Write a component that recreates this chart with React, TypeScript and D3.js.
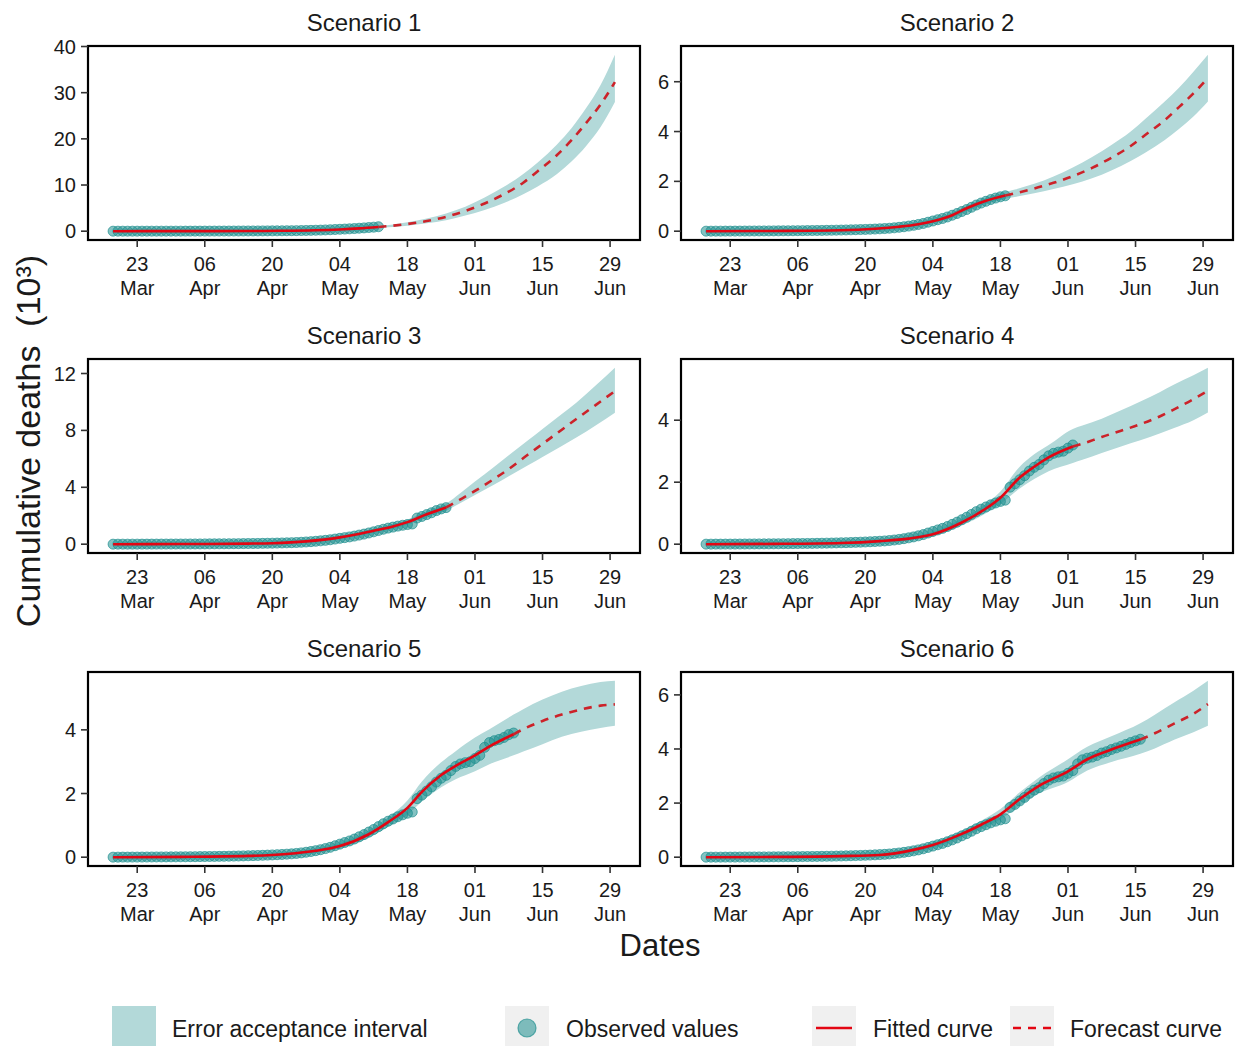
import React from "react";
import * as d3 from "d3";

// ---- data (cumulative deaths, thousands) ----
const START = "2020-03-18";
const LAST_DAY = 104; // 30 Jun
const X_TICKS = ["2020-03-23", "2020-04-06", "2020-04-20", "2020-05-04", "2020-05-18", "2020-06-01", "2020-06-15", "2020-06-29"];

// daily observed values from 18 Mar (day 0) to 16 Jun (day 90)
const observed = [
  0.001, 0.001, 0.002, 0.002, 0.003, 0.003, 0.004, 0.005, 0.006, 0.007,
  0.008, 0.009, 0.010, 0.011, 0.012, 0.013, 0.015, 0.016, 0.018, 0.020,
  0.022, 0.024, 0.026, 0.028, 0.031, 0.034, 0.037, 0.041, 0.045, 0.049,
  0.054, 0.059, 0.065, 0.071, 0.078, 0.086, 0.095, 0.105, 0.118, 0.135,
  0.155, 0.178, 0.205, 0.235, 0.27, 0.31, 0.36, 0.41, 0.46, 0.51,
  0.57, 0.64, 0.71, 0.79, 0.87, 0.96, 1.05, 1.13, 1.2, 1.27,
  1.33, 1.38, 1.42, 1.84, 1.95, 2.08, 2.21, 2.36, 2.48, 2.57,
  2.72, 2.85, 2.93, 2.97, 3.0, 3.1, 3.2, 3.45, 3.6, 3.66,
  3.7, 3.76, 3.85, 3.9, 3.98, 4.04, 4.1, 4.17, 4.24, 4.3,
  4.36,
];

const titles = ["Scenario 1", "Scenario 2", "Scenario 3", "Scenario 4", "Scenario 5", "Scenario 6"];
const observedEnd = [55, 62, 69, 76, 83, 90];
const yTicks = [[0, 10, 20, 30, 40], [0, 2, 4, 6], [0, 4, 8, 12], [0, 2, 4], [0, 2, 4], [0, 2, 4, 6]];

// model curves: day, central value, interval lower / upper
const s1Days = [0, 14, 28, 35, 42, 47, 51, 55, 61, 65, 69, 73, 77, 81, 85, 88, 92, 95, 98, 101, 104];
const s1Mid = [0, 0.01, 0.04, 0.08, 0.2, 0.38, 0.6, 0.9, 1.55, 2.2, 3.1, 4.4, 6.0, 8.0, 10.5, 13.0, 16.5, 19.7, 23.4, 27.4, 32.3];
const s1Lo = [0, 0, 0.03, 0.06, 0.16, 0.32, 0.5, 0.72, 1.2, 1.7, 2.35, 3.4, 4.6, 6.1, 8.0, 9.7, 12.4, 15.1, 18.4, 22.5, 27.96];
const s1Hi = [0, 0.02, 0.05, 0.1, 0.24, 0.44, 0.7, 1.08, 1.95, 2.75, 3.85, 5.3, 7.3, 9.6, 12.4, 14.9, 18.8, 22.3, 26.6, 31.6, 38.2];

const s2Days = [0, 14, 28, 35, 40, 44, 47, 51, 54, 58, 62, 64, 68, 72, 76, 80, 84, 88, 91, 95, 98, 101, 104];
const s2Mid = [0, 0.01, 0.04, 0.1, 0.18, 0.28, 0.4, 0.64, 0.92, 1.22, 1.43, 1.52, 1.71, 1.94, 2.21, 2.54, 2.95, 3.42, 3.86, 4.45, 4.98, 5.53, 6.15];
const s2Lo = [0, 0, 0.02, 0.07, 0.14, 0.23, 0.34, 0.56, 0.82, 1.1, 1.3, 1.37, 1.52, 1.69, 1.88, 2.12, 2.44, 2.82, 3.15, 3.65, 4.1, 4.6, 5.21];
const s2Hi = [0.01, 0.02, 0.06, 0.13, 0.22, 0.33, 0.46, 0.72, 1.02, 1.34, 1.57, 1.67, 1.9, 2.2, 2.56, 2.98, 3.46, 4.0, 4.5, 5.2, 5.76, 6.4, 7.08];

const s3Days = [0, 14, 28, 33, 40, 47, 54, 58, 61, 65, 69, 72, 75, 79, 82, 86, 89, 93, 96, 100, 104];
const s3Mid = [0, 0.01, 0.04, 0.07, 0.2, 0.48, 0.95, 1.25, 1.55, 2.1, 2.58, 3.15, 3.74, 4.6, 5.28, 6.3, 7.05, 8.05, 8.8, 9.78, 10.76];
const s3Lo = [0, 0, 0.02, 0.05, 0.15, 0.4, 0.83, 1.1, 1.37, 1.88, 2.35, 2.9, 3.45, 4.2, 4.78, 5.55, 6.13, 6.9, 7.5, 8.35, 9.24];
const s3Hi = [0.01, 0.02, 0.06, 0.1, 0.25, 0.56, 1.07, 1.4, 1.73, 2.32, 2.85, 3.6, 4.4, 5.45, 6.25, 7.3, 8.1, 9.15, 9.95, 11.15, 12.4];

const s4Days = [0, 14, 28, 36, 42, 47, 53, 58, 61, 65, 68, 71, 76, 78, 82, 86, 90, 94, 97, 101, 104];
const s4Mid = [0, 0.01, 0.04, 0.1, 0.18, 0.32, 0.7, 1.15, 1.5, 2.15, 2.5, 2.8, 3.15, 3.24, 3.46, 3.66, 3.87, 4.12, 4.35, 4.68, 4.95];
const s4Lo = [0, 0, 0.02, 0.06, 0.13, 0.25, 0.6, 1.0, 1.3, 1.8, 2.1, 2.35, 2.62, 2.72, 2.94, 3.15, 3.35, 3.57, 3.75, 4.0, 4.25];
const s4Hi = [0.01, 0.02, 0.06, 0.14, 0.23, 0.39, 0.82, 1.3, 1.7, 2.5, 2.9, 3.2, 3.72, 3.83, 4.05, 4.32, 4.6, 4.9, 5.15, 5.45, 5.69];

const s5Days = [0, 14, 28, 36, 42, 47, 53, 57, 61, 64, 68, 71, 75, 78, 83, 85, 89, 93, 97, 101, 104];
const s5Mid = [0, 0.01, 0.04, 0.1, 0.2, 0.35, 0.72, 1.1, 1.55, 2.05, 2.58, 2.87, 3.2, 3.48, 3.86, 4.02, 4.28, 4.48, 4.64, 4.76, 4.8];
const s5Lo = [0, 0, 0.02, 0.06, 0.14, 0.27, 0.6, 0.95, 1.33, 1.75, 2.2, 2.45, 2.7, 2.92, 3.2, 3.32, 3.55, 3.78, 3.94, 4.06, 4.13];
const s5Hi = [0.01, 0.02, 0.06, 0.14, 0.26, 0.43, 0.84, 1.25, 1.78, 2.38, 2.98, 3.33, 3.76, 4.02, 4.48, 4.65, 4.95, 5.2, 5.38, 5.5, 5.54];

const s6Days = [0, 14, 28, 36, 43, 47, 53, 57, 61, 65, 69, 75, 79, 84, 90, 93, 97, 101, 104];
const s6Mid = [0, 0.01, 0.04, 0.08, 0.27, 0.45, 0.86, 1.2, 1.58, 2.15, 2.64, 3.17, 3.62, 3.98, 4.35, 4.58, 4.94, 5.3, 5.66];
const s6Lo = [0, 0, 0.02, 0.05, 0.2, 0.36, 0.74, 1.05, 1.4, 1.9, 2.35, 2.78, 3.2, 3.52, 3.82, 4.02, 4.34, 4.62, 4.86];
const s6Hi = [0.01, 0.02, 0.06, 0.12, 0.34, 0.54, 0.98, 1.35, 1.78, 2.4, 2.95, 3.62, 4.08, 4.47, 4.95, 5.27, 5.72, 6.15, 6.52];

const models = [
  { days: s1Days, mid: s1Mid, lo: s1Lo, hi: s1Hi },
  { days: s2Days, mid: s2Mid, lo: s2Lo, hi: s2Hi },
  { days: s3Days, mid: s3Mid, lo: s3Lo, hi: s3Hi },
  { days: s4Days, mid: s4Mid, lo: s4Lo, hi: s4Hi },
  { days: s5Days, mid: s5Mid, lo: s5Lo, hi: s5Hi },
  { days: s6Days, mid: s6Mid, lo: s6Lo, hi: s6Hi },
];

// ---- layout & style ----
const FONT = "'Liberation Sans', Arial, Helvetica, sans-serif";
const PANEL_X = [88, 681];
const PANEL_Y = [46, 359, 672];
const PANEL_W = 552;
const PANEL_H = 194;
const BAND = "#b3d9d9";
const POINT = "#1f8f8f";
const FIT = "#e30613";
const FORECAST = "#cc2229";
const TEXT = "#1a1a1a";

const parse = d3.timeParse("%Y-%m-%d");
const startDate = parse(START) as Date;
const fmtDay = d3.timeFormat("%d");
const fmtMon = d3.timeFormat("%b");
const tickDates = X_TICKS.map((s) => parse(s) as Date);

function Panel({ i }: { i: number }) {
  const x0 = PANEL_X[i % 2];
  const y0 = PANEL_Y[Math.floor(i / 2)];
  const m = models[i];
  const end = observedEnd[i];
  const obs = observed.slice(0, end + 1);

  const pad = LAST_DAY * 0.05;
  const x = d3.scaleLinear().domain([-pad, LAST_DAY + pad]).range([x0, x0 + PANEL_W]);

  const lo = Math.min(0, d3.min(m.lo) as number, d3.min(obs) as number);
  const hi = Math.max(d3.max(m.hi) as number, d3.max(obs) as number);
  const r = hi - lo;
  const y = d3.scaleLinear().domain([lo - 0.05 * r, hi + 0.05 * r]).range([y0 + PANEL_H, y0]);

  const pts = m.days.map((d, k) => ({ d, mid: m.mid[k], lo: m.lo[k], hi: m.hi[k] }));
  const fitted = pts.filter((p) => p.d <= end);
  const forecast = pts.filter((p) => p.d >= end);

  const area = d3
    .area<{ d: number; lo: number; hi: number }>()
    .x((p) => x(p.d))
    .y0((p) => y(p.lo))
    .y1((p) => y(p.hi))
    .curve(d3.curveMonotoneX);
  const line = d3
    .line<{ d: number; mid: number }>()
    .x((p) => x(p.d))
    .y((p) => y(p.mid))
    .curve(d3.curveMonotoneX);

  const clipId = `clip-${i}`;
  return (
    <g>
      <defs>
        <clipPath id={clipId}>
          <rect x={x0} y={y0} width={PANEL_W} height={PANEL_H} />
        </clipPath>
      </defs>
      <text x={x0 + PANEL_W / 2} y={y0 - 15} textAnchor="middle" fontSize={24} fill={TEXT}>
        {titles[i]}
      </text>
      <g clipPath={`url(#${clipId})`}>
        <path d={area(pts) || ""} fill={BAND} />
        {obs.map((v, k) => (
          <circle key={k} cx={x(k)} cy={y(v)} r={5} fill={POINT} fillOpacity={0.55} stroke={POINT} strokeOpacity={0.7} strokeWidth={1} />
        ))}
        <path d={line(fitted) || ""} fill="none" stroke={FIT} strokeWidth={2.6} />
        <path d={line(forecast) || ""} fill="none" stroke={FORECAST} strokeWidth={2.6} strokeDasharray="8,7" />
      </g>
      <rect x={x0} y={y0} width={PANEL_W} height={PANEL_H} fill="none" stroke="#000" strokeWidth={2.2} />
      {yTicks[i].map((t) => (
        <g key={t}>
          <line x1={x0 - 7} x2={x0} y1={y(t)} y2={y(t)} stroke="#333" strokeWidth={1.6} />
          <text x={x0 - 12} y={y(t) + 7} textAnchor="end" fontSize={20} fill={TEXT}>
            {t}
          </text>
        </g>
      ))}
      {tickDates.map((dt) => {
        const xx = x(d3.timeDay.count(startDate, dt));
        return (
          <g key={+dt}>
            <line x1={xx} x2={xx} y1={y0 + PANEL_H} y2={y0 + PANEL_H + 7} stroke="#333" strokeWidth={1.6} />
            <text x={xx} y={y0 + PANEL_H + 31} textAnchor="middle" fontSize={20} fill={TEXT}>
              {fmtDay(dt)}
            </text>
            <text x={xx} y={y0 + PANEL_H + 55} textAnchor="middle" fontSize={20} fill={TEXT}>
              {fmtMon(dt)}
            </text>
          </g>
        );
      })}
    </g>
  );
}

function Legend() {
  const ky = 1006;
  const ks = 44;
  const cy = ky + 22;
  return (
    <g fontSize={23} fill={TEXT}>
      <rect x={112} y={ky} width={ks} height={ks} fill={BAND} />
      <text x={172} y={cy + 9}>Error acceptance interval</text>

      <rect x={505} y={ky} width={ks} height={ks} fill="#f0f0f0" />
      <circle cx={527} cy={cy} r={9} fill={POINT} fillOpacity={0.55} stroke={POINT} strokeOpacity={0.7} strokeWidth={1.2} />
      <text x={566} y={cy + 9}>Observed values</text>

      <rect x={812} y={ky} width={ks} height={ks} fill="#f0f0f0" />
      <line x1={816} x2={852} y1={cy} y2={cy} stroke={FIT} strokeWidth={2.6} />
      <text x={873} y={cy + 9}>Fitted curve</text>

      <rect x={1010} y={ky} width={ks} height={ks} fill="#f0f0f0" />
      <line x1={1013} x2={1051} y1={cy} y2={cy} stroke={FIT} strokeWidth={2.6} strokeDasharray="8,7" />
      <text x={1070} y={cy + 9}>Forecast curve</text>
    </g>
  );
}

export default function App() {
  return (
    <svg
      width={1242}
      height={1046}
      style={{ position: "absolute", left: 0, top: 0, background: "#fff" }}
      fontFamily={FONT}
    >
      <rect width={1242} height={1046} fill="#fff" />
      {titles.map((_, i) => (
        <Panel key={i} i={i} />
      ))}
      <text x={660} y={956} textAnchor="middle" fontSize={31} fill={TEXT}>
        Dates
      </text>
      <text
        transform="translate(40,441) rotate(-90)"
        textAnchor="middle"
        fontSize={34}
        fill={TEXT}
        style={{ whiteSpace: "pre" }}
      >
        {"Cumulative deaths  (10³)"}
      </text>
      <Legend />
    </svg>
  );
}
